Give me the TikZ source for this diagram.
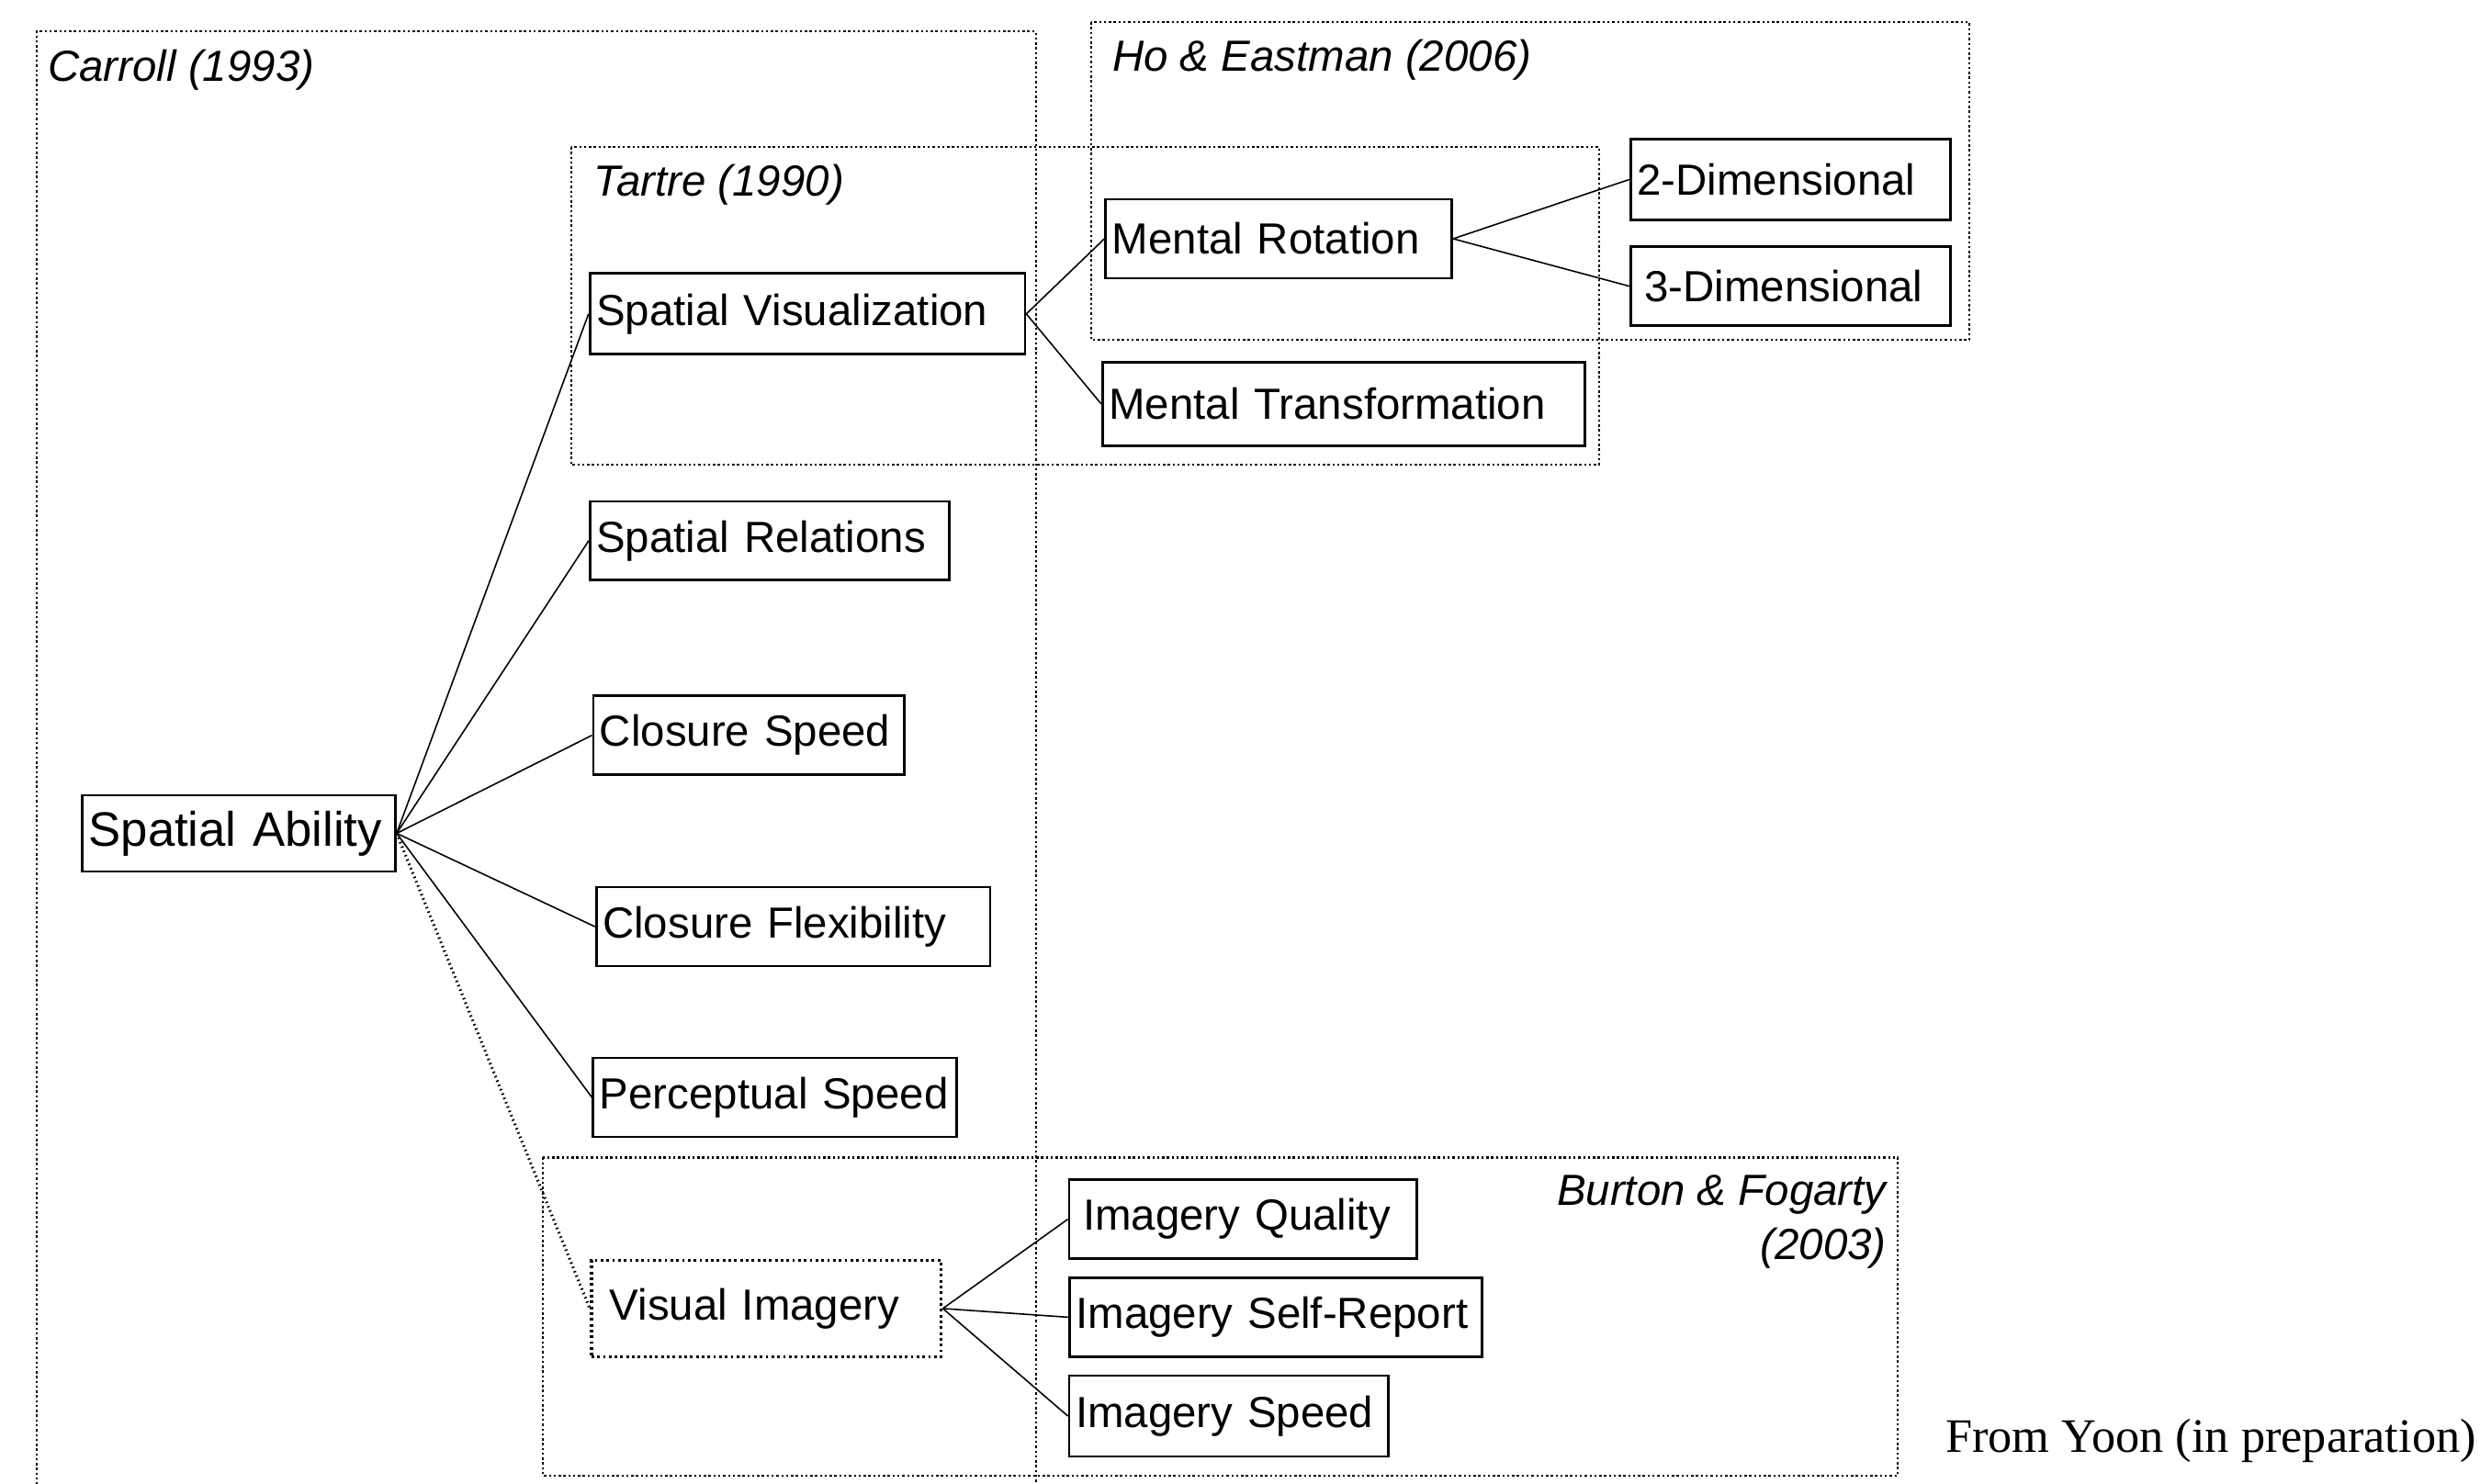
\documentclass[tikz,border=0pt]{standalone}
\usepackage{fontspec}
\setmainfont{Liberation Sans}
\newfontfamily\notefont{Liberation Serif}
\usetikzlibrary{positioning}

\tikzset{
  fac/.style={draw, line width=0.8pt, inner xsep=0.07cm, inner ysep=0pt, align=left,
    minimum height=0.86cm, font=\fontsize{13.5}{16}\selectfont},
  grp/.style={line width=0.6pt, dash pattern=on 0.7pt off 0.8pt},
  src/.style={font=\fontsize{13.5}{16.7}\selectfont\itshape, inner sep=0pt},
  link/.style={line width=0.45pt},
}

\begin{document}
\begin{tikzpicture}[x=0.01722cm, y=-0.01722cm]
\useasboundingbox (0,0) rectangle (1568,938);
% study frames
\draw[grp] (23,945) -- (23,20) -- (655,20) -- (655,945);
\draw[grp] (690,14) rectangle (1245,215);
\draw[grp] (361,93) rectangle (1011,294);
\draw[grp] (343,732) rectangle (1200,933);
\node[src, anchor=west] (carroll) at (30,44) {Carroll (1993)};
\node[src, anchor=west] (hoeast) at (703,38) {Ho \& Eastman (2006)};
\node[src, anchor=west] (tartre) at (375,117) {Tartre (1990)};
\node[src, align=right, anchor=north east] (burton) at (1193,743) {Burton \& Fogarty\\(2003)};

% factors
\node[fac, text width=3.27cm, minimum height=0.83cm, font=\fontsize{15}{18}\selectfont] (sa) at (151,527) {Spatial Ability};
\node[fac, text width=4.60cm, minimum height=0.88cm] (sv) at (510.5,198.5) {Spatial Visualization};
\node[fac, text width=3.77cm] (sr) at (486.5,342) {Spatial Relations};
\node[fac, text width=3.25cm] (cs) at (473.5,465) {Closure Speed};
\node[fac, text width=4.15cm] (cf) at (501.5,586) {Closure Flexibility};
\node[fac, text width=3.82cm] (ps) at (490,694) {Perceptual Speed};
\node[fac, densely dotted, line width=1pt, inner xsep=0.2cm, text width=3.41cm, minimum height=1.05cm] (vi) at (484.5,827.5) {Visual Imagery};
\node[fac, text width=3.63cm] (mr) at (808.5,151) {Mental Rotation};
\node[fac, text width=5.11cm, minimum height=0.91cm] (mt) at (849.5,255.5) {Mental Transformation};
\node[fac, text width=3.34cm, minimum height=0.88cm] (d2) at (1132,113.5) {2-Dimensional};
\node[fac, text width=3.34cm] (d3) at (1132,181) {\hspace*{0.08cm}3-Dimensional};
\node[fac, text width=3.65cm] (iq) at (786,771) {\hspace*{0.08cm}Imagery Quality};
\node[fac, text width=4.35cm] (is) at (806.5,833) {Imagery Self-Report};
\node[fac, text width=3.34cm, minimum height=0.88cm] (ip) at (777,895.5) {Imagery Speed};

% links
\foreach \t in {sv,sr,cs,cf,ps}
  \draw[link] (sa.east) -- (\t.west);
\draw[link, densely dotted, line width=0.9pt] (sa.east) -- (vi.west);
\draw[link] (sv.east) -- (mr.west);
\draw[link] (sv.east) -- (mt.west);
\draw[link] (mr.east) -- (d2.west);
\draw[link] (mr.east) -- (d3.west);
\foreach \t in {iq,is,ip}
  \draw[link] (vi.east) -- (\t.west);

\node[font=\notefont\fontsize{14.9}{17}\selectfont, inner sep=0pt, anchor=east] (note) at (1566,911) {From Yoon (in preparation)};
\end{tikzpicture}
\end{document}
